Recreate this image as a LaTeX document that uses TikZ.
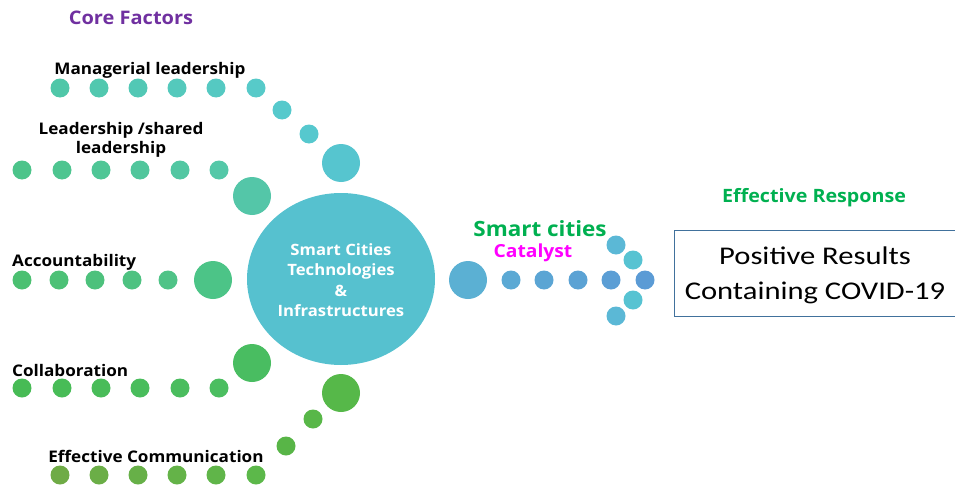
\documentclass[tikz,border=0pt]{standalone}
\usepackage{fontspec}
\setmainfont[FakeStretch=1.07]{Open Sans}
\newfontfamily\boxfont[FakeStretch=1.2]{Carlito}
\usetikzlibrary{shapes.geometric}
\definecolor{corepurple}{HTML}{7030A0}
\definecolor{respgreen}{HTML}{00B050}
\definecolor{catmagenta}{HTML}{FF00FF}
\definecolor{hubteal}{HTML}{56C1CF}
\definecolor{boxblue}{HTML}{41719C}
\definecolor{mgrstart}{HTML}{4FC7A8}
\definecolor{mgrend}{HTML}{57CAC9}
\definecolor{shrstart}{HTML}{4CC48A}
\definecolor{shrend}{HTML}{54C8A8}
\definecolor{accstart}{HTML}{4BC071}
\definecolor{accend}{HTML}{4FC387}
\definecolor{colstart}{HTML}{47BB55}
\definecolor{colend}{HTML}{4BBE60}
\definecolor{comstart}{HTML}{6FAB46}
\definecolor{comend}{HTML}{5CB84A}
\definecolor{catstart}{HTML}{5BA9D4}
\definecolor{catend}{HTML}{5B9BD5}
\tikzset{
  dot/.style={circle, inner sep=0pt, minimum size=19pt},
  bigdot/.style={circle, inner sep=0pt, minimum size=38pt},
  factor/.style={font=\bfseries\fontsize{16}{19}\selectfont, inner sep=0pt},
}
\begin{document}
\begin{tikzpicture}[x=1pt,y=-1pt]
  \useasboundingbox (0,0) rectangle (955,487);
  \node[font=\bfseries\fontsize{18.7}{22}\selectfont, text=corepurple] (core) at (131,18) {Core Factors};

  % factor rows: small dots shading from one tint to the next
  \foreach \x [count=\i] in {60,99,138,177,216,256}
    \pgfmathsetmacro{\p}{(\i-1)*20}
    \node[dot, fill=mgrend!\p!mgrstart] (mgr\i) at (\x,88) {};
  \foreach \x [count=\i] in {22,62,101,140,180,219}
    \pgfmathsetmacro{\p}{(\i-1)*20}
    \node[dot, fill=shrend!\p!shrstart] (shr\i) at (\x,170) {};
  \foreach \x [count=\i] in {22,59,95,132,168}
    \pgfmathsetmacro{\p}{(\i-1)*25}
    \node[dot, fill=accend!\p!accstart] (acc\i) at (\x,280) {};
  \foreach \x [count=\i] in {22,62,101,140,180,219}
    \pgfmathsetmacro{\p}{(\i-1)*20}
    \node[dot, fill=colend!\p!colstart] (col\i) at (\x,388) {};
  \foreach \x [count=\i] in {60,99,138,177,216,256}
    \pgfmathsetmacro{\p}{(\i-1)*20}
    \node[dot, fill=comend!\p!comstart] (com\i) at (\x,475) {};

  % dots curving into the hub
  \node[dot, fill={rgb,255:red,86;green,201;blue,204}] (mgrA) at (282,110) {};
  \node[dot, fill={rgb,255:red,86;green,200;blue,206}] (mgrB) at (309,134) {};
  \node[bigdot, fill={rgb,255:red,86;green,197;blue,207}] (mgrC) at (341,163) {};
  \node[bigdot, fill={rgb,255:red,84;green,198;blue,168}] (shrC) at (252,196) {};
  \node[bigdot, fill={rgb,255:red,76;green,196;blue,135}] (accC) at (213,280) {};
  \node[bigdot, fill={rgb,255:red,73;green,189;blue,97}] (colC) at (252,363) {};
  \node[dot, fill={rgb,255:red,88;green,181;blue,71}] (comA) at (286,446) {};
  \node[dot, fill={rgb,255:red,88;green,183;blue,72}] (comB) at (313,419) {};
  \node[bigdot, fill={rgb,255:red,86;green,184;blue,73}] (comC) at (341,393) {};

  % factor labels
  \node[factor] (mgr) at (150,70) {Managerial leadership};
  \node[factor, align=center, font=\bfseries\fontsize{16}{19.5}\selectfont] (shr) at (121,140) {Leadership /shared\\leadership};
  \node[factor, anchor=west] (acc) at (12,262) {Accountability};
  \node[factor, anchor=west] (col) at (12,370) {Collaboration};
  \node[factor] (com) at (156,456) {Effective Communication};

  % hub
  \node[ellipse, fill=hubteal, minimum width=188pt, minimum height=172pt, inner sep=0pt] (hub) at (341,279) {};
  \node[text=white, align=center, font=\bfseries\fontsize{15.6}{20.5}\selectfont] (hubtext) at (341,280)
    {Smart Cities\\Technologies\\\&\\Infrastructures};

  % catalyst arrow
  \node[bigdot, fill={rgb,255:red,91;green,176;blue,211}] (cat0) at (468,280) {};
  \foreach \x [count=\i] in {511,544,578,611,645}
    \pgfmathsetmacro{\p}{(\i-1)*25}
    \node[dot, fill=catend!\p!catstart] (cat\i) at (\x,280) {};
  \node[dot, fill={rgb,255:red,91;green,184;blue,214}] (tipA) at (616,245) {};
  \node[dot, fill={rgb,255:red,87;green,195;blue,210}] (tipB) at (633,260) {};
  \node[dot, fill={rgb,255:red,87;green,195;blue,210}] (tipC) at (633,300) {};
  \node[dot, fill={rgb,255:red,91;green,184;blue,214}] (tipD) at (616,316) {};
  \node[font=\bfseries\fontsize{21}{24}\selectfont, text=respgreen] (smart) at (540,229) {Smart cities};
  \node[font=\bfseries\fontsize{18}{20}\selectfont, text=catmagenta] (catalyst) at (533,253) {Catalyst};

  % outcome
  \node[font=\bfseries\fontsize{18.4}{21}\selectfont, text=respgreen] (resp) at (814,198) {Effective Response};
  \draw[boxblue, line width=1pt] (674,230) rectangle (955.5,316);
  \node[align=center, font=\boxfont\fontsize{25.5}{35}\selectfont] (result) at (815,275)
    {Positive Results\\Containing COVID-19};
\end{tikzpicture}
\end{document}
